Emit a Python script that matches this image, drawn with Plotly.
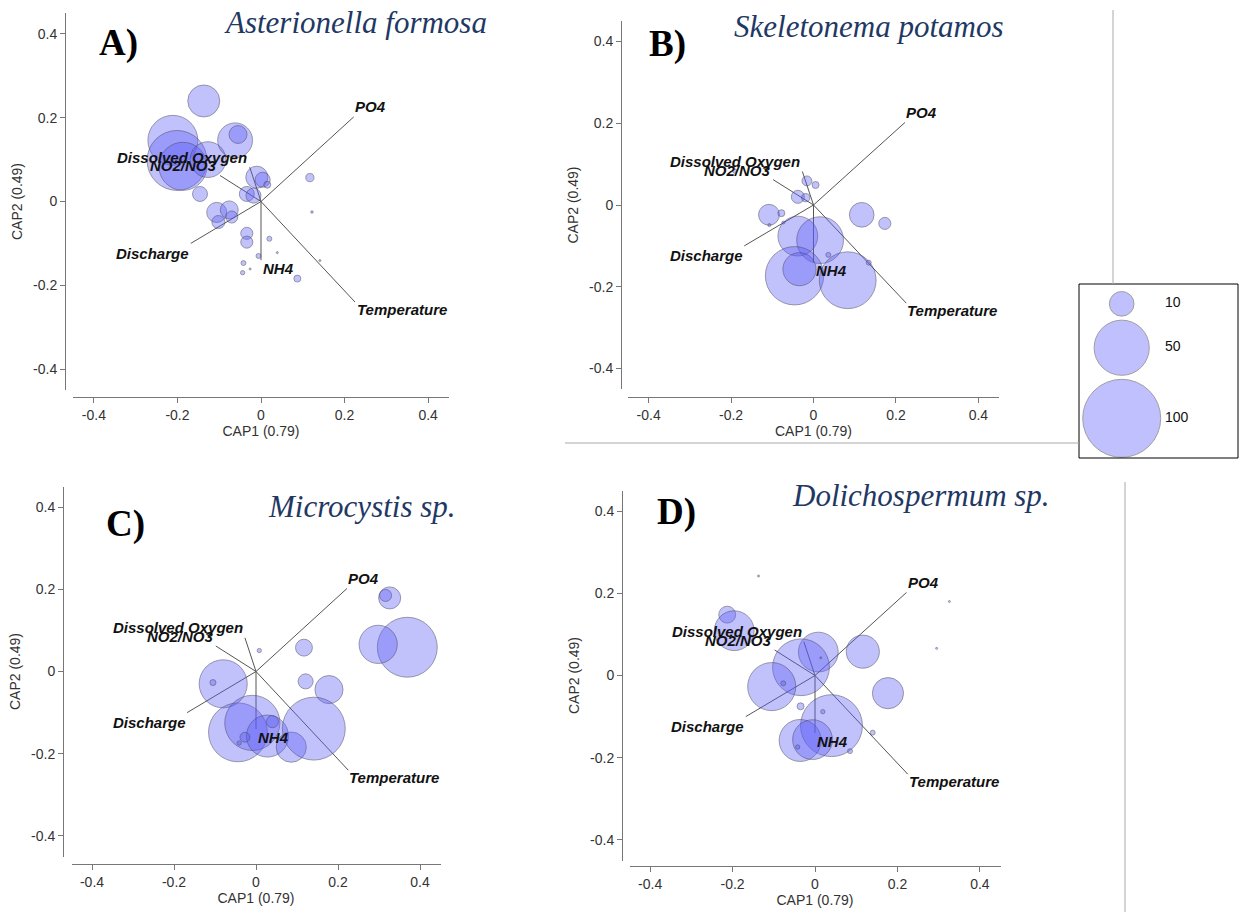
import plotly.graph_objects as go
import numpy as np

W, H = 1244, 912

# ---------------- data ----------------
# CAP biplot vectors (shared by all panels)
vec_names = ["PO4", "Temperature", "Discharge", "NH4", "Dissolved Oxygen", "NO2/NO3"]
vec_x = [0.222, 0.225, -0.168, 0.0, -0.027, -0.098]
vec_y = [0.202, -0.240, -0.100, -0.140, 0.082, 0.062]
lab_x = [0.262, 0.337, -0.26, 0.043, -0.19, -0.185]
lab_y = [0.227, -0.259, -0.123, -0.160, 0.106, 0.085]

# Panel A: Asterionella formosa
a_x = [-0.211, -0.201, -0.187, -0.127, -0.062, -0.055, -0.137, -0.010, 0.004, 0.015, -0.034, -0.018,
       -0.146, -0.106, -0.076, -0.102, -0.070, -0.034, -0.034, 0.020, -0.006, 0.039, -0.042, -0.044,
       -0.026, 0.087, 0.117, 0.122, 0.141]
a_y = [0.146, 0.098, 0.084, 0.100, 0.146, 0.160, 0.240, 0.058, 0.052, 0.040, 0.018, 0.014,
       0.018, -0.026, -0.020, -0.049, -0.037, -0.076, -0.097, -0.089, -0.130, -0.122, -0.147, -0.170,
       -0.161, -0.184, 0.057, -0.025, -0.141]
a_v = [41, 59, 38, 21, 20, 5.3, 16.8, 8, 3.7, 0.8, 3.7, 3.7,
       3.7, 6.6, 5.3, 2.8, 2.4, 2.4, 2.4, 0.4, 0.4, 0.07, 0.4, 0.3,
       0.05, 0.8, 1.1, 0.1, 0.07]

# Panel B: Skeletonema potamos
b_x = [-0.016, 0.005, -0.038, -0.019, -0.108, -0.078, -0.107, -0.073, 0.117, 0.173, -0.038, 0.016,
       -0.046, -0.034, 0.083, 0.036, 0.134, -0.191]
b_y = [0.059, 0.049, 0.020, 0.018, -0.024, -0.020, -0.049, -0.043, -0.024, -0.045, -0.076, -0.086,
       -0.173, -0.157, -0.184, -0.122, -0.141, 0.083]
b_v = [1.6, 0.8, 2.8, 1.1, 7.2, 0.8, 0.15, 0.15, 10, 2.4, 26, 36,
       56, 18, 53, 0.4, 0.4, 0.3]

# Panel C: Microcystis sp.
c_x = [0.326, 0.316, 0.369, 0.298, 0.117, 0.121, 0.178, 0.008, -0.080, -0.105, -0.044, -0.009,
       0.028, 0.040, -0.027, -0.041, 0.086, 0.141]
c_y = [0.179, 0.185, 0.059, 0.066, 0.058, -0.024, -0.044, 0.051, -0.030, -0.027, -0.148, -0.125,
       -0.157, -0.122, -0.160, -0.174, -0.184, -0.139]
c_v = [8, 2.4, 59, 24, 4.7, 3.7, 13, 0.3, 38, 0.6, 57, 50,
       29, 2.4, 1.6, 0.3, 15, 65]

# Panel D: Dolichospermum sp.
d_x = [-0.213, -0.196, 0.008, -0.034, -0.105, -0.077, 0.116, 0.177, 0.040, -0.036, -0.006, -0.035,
       0.019, -0.042, 0.085, 0.140, -0.137, 0.326, 0.295, 0.014]
d_y = [0.148, 0.109, 0.057, 0.020, -0.027, -0.019, 0.058, -0.043, -0.122, -0.158, -0.156, -0.075,
       -0.088, -0.174, -0.184, -0.139, 0.242, 0.180, 0.066, 0.043]
d_v = [4.7, 26, 26, 53, 38, 0.4, 18, 16, 63, 29, 26, 0.8,
       0.3, 0.3, 0.4, 0.4, 0.05, 0.05, 0.05, 0.05]

species = ["Asterionella formosa", "Skeletonema potamos", "Microcystis sp.", "Dolichospermum sp."]
letters = ["A)", "B)", "C)", "D)"]
legend_vals = [10, 50, 100]
ticks = [-0.4, -0.2, 0, 0.2, 0.4]
tick_text = ["-0.4", "-0.2", "0", "0.2", "0.4"]

# ---------------- layout geometry (pixels) ----------------
# (x_left, x_right, y_top, y_bottom, yaxis_x, xaxis_y)
panels = [
    (73, 449, 13, 390, 65, 397),
    (628, 999, 21, 389, 621, 397),
    (71.5, 440.5, 486.5, 856.5, 63, 864),
    (629.5, 1000.5, 490.5, 860.5, 622, 866),
]
title_pos = [(355, 22), (868, 26), (362, 506), (921, 495)]
letter_pos = [(118, 43), (667, 44), (125, 524), (676, 512)]

def px(x):
    return x / W

def py(y):
    return 1 - y / H

SIZEREF = 2.0 * 100 / 78.0 ** 2
FILL = "rgba(95,95,248,0.55)"
EDGE = "rgba(70,70,100,0.75)"
TXT = "#333333"

fig = go.Figure()
data = [(a_x, a_y, a_v), (b_x, b_y, b_v), (c_x, c_y, c_v), (d_x, d_y, d_v)]

layout = dict(
    width=W, height=H, margin=dict(l=0, r=0, t=0, b=0),
    paper_bgcolor="white", plot_bgcolor="rgba(0,0,0,0)",
    showlegend=False, annotations=[], shapes=[],
)

for i, (p, (xs, ys, vs)) in enumerate(zip(panels, data)):
    n = i + 1
    xl, xr, yt, yb, yax, xay = p
    xid = "x" if n == 1 else f"x{n}"
    yid = "y" if n == 1 else f"y{n}"
    xname = "xaxis" if n == 1 else f"xaxis{n}"
    yname = "yaxis" if n == 1 else f"yaxis{n}"
    common = dict(range=[-0.45, 0.45], tickvals=ticks, ticktext=tick_text, showline=True,
                  linecolor="#777777", linewidth=1, ticks="outside", ticklen=5, tickcolor="#777777",
                  showgrid=False, zeroline=False, automargin=False, anchor="free",
                  tickfont=dict(family="Arial", size=14, color=TXT), fixedrange=True)
    layout[xname] = dict(common, domain=[px(xl), px(xr)], position=py(xay),
                         title=dict(text="CAP1 (0.79)", font=dict(family="Arial", size=14, color=TXT), standoff=3))
    layout[yname] = dict(common, domain=[py(yb), py(yt)], position=px(yax),
                         title=dict(text="CAP2 (0.49)", font=dict(family="Arial", size=14, color=TXT), standoff=6))

    # biplot vectors
    lx, ly = [], []
    for vx, vy in zip(vec_x, vec_y):
        lx += [0, vx, None]
        ly += [0, vy, None]
    fig.add_trace(go.Scatter(x=lx, y=ly, mode="lines", line=dict(color="#555555", width=1),
                             xaxis=xid, yaxis=yid, hoverinfo="skip"))
    # bubbles
    fig.add_trace(go.Scatter(x=xs, y=ys, mode="markers", xaxis=xid, yaxis=yid,
                             marker=dict(size=vs, sizemode="area", sizeref=SIZEREF, sizemin=1,
                                         color=FILL, line=dict(color=EDGE, width=1))))
    # vector labels
    for name, tx, ty in zip(vec_names, lab_x, lab_y):
        layout["annotations"].append(dict(
            x=tx, y=ty, xref=xid, yref=yid, text=f"<b><i>{name}</i></b>", showarrow=False,
            font=dict(family="Arial", size=15, color="#111111"), xanchor="center", yanchor="middle"))
    # species title
    tx, ty = title_pos[i]
    layout["annotations"].append(dict(
        x=px(tx), y=py(ty), xref="paper", yref="paper", text=f"<i>{species[i]}</i>", showarrow=False,
        font=dict(family="Liberation Serif, Times New Roman, serif", size=31, color="#1f3864"),
        xanchor="center", yanchor="middle"))
    lx_, ly_ = letter_pos[i]
    layout["annotations"].append(dict(
        x=px(lx_), y=py(ly_), xref="paper", yref="paper", text=f"<b>{letters[i]}</b>", showarrow=False,
        font=dict(family="Liberation Serif, Times New Roman, serif", size=37, color="black"),
        xanchor="center", yanchor="middle"))

# ---------------- size legend ----------------
bx0, bx1, by0, by1 = 1079, 1238, 284, 458
layout["xaxis5"] = dict(domain=[px(bx0), px(bx1)], range=[0, bx1 - bx0], visible=False, anchor="y5", fixedrange=True)
layout["yaxis5"] = dict(domain=[py(by1), py(by0)], range=[by1 - by0, 0], visible=False, anchor="x5", fixedrange=True)
diam = [2 * np.sqrt(v / 2 / SIZEREF) for v in legend_vals]
centers = []
cur = 7.5
for d in diam:
    centers.append(cur + d / 2)
    cur += d + 4
fig.add_trace(go.Scatter(x=[42.7] * len(legend_vals), y=centers, mode="markers", xaxis="x5", yaxis="y5",
                         marker=dict(size=legend_vals, sizemode="area", sizeref=SIZEREF,
                                     color="rgba(166,166,255,1)", line=dict(color="#777777", width=1)),
                         hoverinfo="skip"))
fig.add_trace(go.Scatter(x=[86] * len(legend_vals), y=centers, mode="text", xaxis="x5", yaxis="y5",
                         text=[str(v) for v in legend_vals], textposition="middle right",
                         textfont=dict(family="Arial", size=14, color="#111111"), hoverinfo="skip"))
layout["shapes"].append(dict(type="rect", xref="paper", yref="paper", x0=px(bx0), x1=px(bx1),
                             y0=py(by1), y1=py(by0), line=dict(color="black", width=1)))

# decorative panel separators from the composite figure
sep = "#aaaaaa"
layout["shapes"] += [
    dict(type="line", xref="paper", yref="paper", x0=px(1113), x1=px(1113), y0=py(10), y1=py(284), line=dict(color=sep, width=1)),
    dict(type="line", xref="paper", yref="paper", x0=px(565), x1=px(bx0), y0=py(443), y1=py(443), line=dict(color=sep, width=1)),
    dict(type="line", xref="paper", yref="paper", x0=px(1125), x1=px(1125), y0=py(482), y1=py(912), line=dict(color=sep, width=1)),
]

fig.update_layout(**layout)
fig.write_html("out.html")
